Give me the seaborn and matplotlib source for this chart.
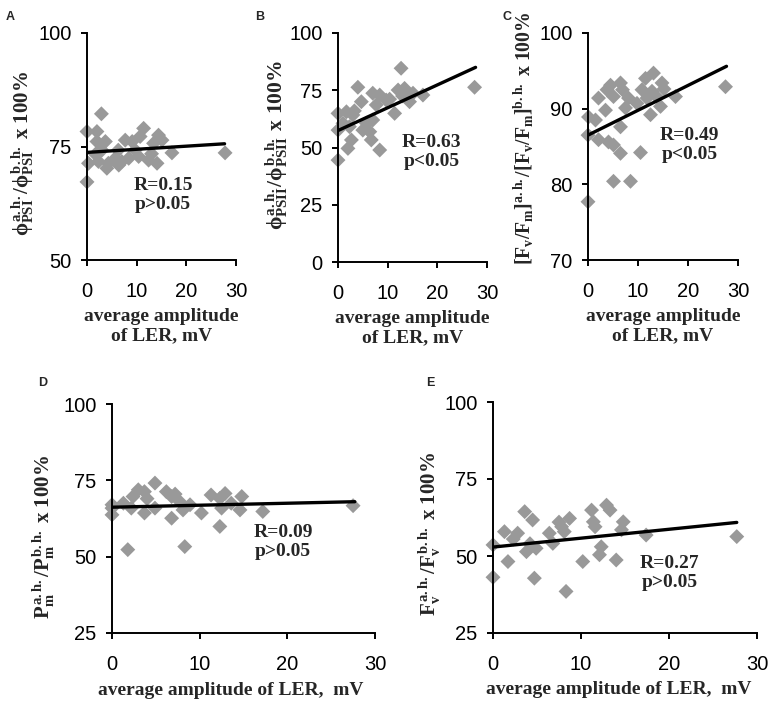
import matplotlib
matplotlib.use("Agg")
import matplotlib.pyplot as plt
import seaborn as sns

# panel A: phi PSI
a_x = [2.9, 0, 2.0, 11.4, 14.4, 2.0, 3.7, 7.7, 9.1, 10.7, 13.4, 15.1, 17.1, 27.8, 0.3, 2.3,
       4.3, 5.7, 7.0, 8.4, 4.0, 6.4, 12.4, 14.1, 13.0, 9.7, 6.3, 3.0, 0, 1.7, 10.4]
a_y = [82.2, 78.3, 78.3, 79.0, 77.5, 76.1, 76.1, 76.4, 76.1, 77.2, 75.7, 76.4, 73.6, 73.6, 71.3, 71.7,
       71.3, 72.4, 71.7, 72.4, 70.2, 70.9, 72.0, 71.3, 73.4, 74.2, 74.2, 74.2, 67.2, 73.3, 72.8]
a_fit = [73.7, 75.6]

# panel B: phi PSII
b_x = [12.7, 27.5, 4.0, 7.0, 8.4, 4.7, 12.1, 13.4, 15.1, 17.1, 9.7, 10.4, 14.4, 11.4, 7.7, 0,
       1.7, 3.0, 1.0, 0, 2.3, 5.7, 7.0, 5.0, 6.4, 2.7, 2.0, 6.7, 8.4, 0, 3.3, 13.0]
b_y = [84.6, 76.3, 76.3, 73.7, 72.9, 70.0, 75.1, 75.8, 73.7, 72.9, 70.7, 71.1, 70.0, 64.9, 68.6, 64.9,
       65.6, 64.2, 60.6, 57.6, 59.1, 60.6, 62.0, 57.6, 56.9, 53.3, 49.6, 53.3, 48.9, 44.5, 66.0, 72.5]
b_fit = [57.4, 85.0]

# panel C: Fv/Fm
c_x = [13.1, 11.5, 27.5, 4.5, 6.5, 14.8, 3.8, 6.9, 10.8, 12.8, 2.1, 5.1, 8.1, 11.8, 13.7, 17.5,
       3.5, 7.5, 9.8, 14.5, 12.5, 0.1, 1.5, 6.5, 0, 2.1, 4.1, 5.1, 6.5, 10.5, 5.1, 8.5, 0, 15.2]
c_y = [94.7, 94.0, 92.9, 93.1, 93.4, 93.4, 92.5, 92.5, 92.5, 92.3, 91.4, 91.6, 91.4, 91.4, 91.6, 91.6,
       89.8, 90.1, 90.7, 90.3, 89.2, 88.9, 88.5, 87.6, 86.5, 85.9, 85.6, 85.2, 84.1, 84.2, 80.4, 80.4, 77.7, 92.6]
c_fit = [86.5, 95.6]

# panel D: Pm
d_x = [4.9, 0, 0, 0, 1.3, 2.4, 3.0, 3.7, 2.2, 3.7, 4.9, 6.2, 6.8, 7.7, 8.1, 8.9,
       6.8, 10.2, 11.3, 12.3, 12.9, 12.5, 12.3, 13.6, 14.8, 14.6, 17.2, 27.5, 1.8, 8.3, 4.0, 7.2]
d_y = [74.1, 65.9, 63.7, 67.0, 67.5, 69.7, 71.9, 71.3, 65.9, 64.3, 65.9, 71.3, 69.7, 68.1, 65.3, 67.0,
       62.6, 64.3, 70.2, 69.1, 70.7, 65.9, 59.9, 67.5, 69.7, 65.3, 64.8, 66.7, 52.3, 53.3, 69.0, 70.5]
d_fit = [66.2, 68.0]

# panel E: Fv
e_x = [0, 0, 1.3, 1.7, 2.8, 3.6, 4.5, 3.8, 4.9, 4.7, 6.4, 6.8, 7.8, 8.1, 8.7, 8.3,
       10.2, 11.2, 11.4, 11.6, 12.3, 12.1, 12.9, 13.3, 14.0, 14.8, 14.6, 17.4, 27.7, 2.3, 4.2, 7.5]
e_y = [53.6, 43.1, 57.9, 48.2, 57.4, 64.4, 61.7, 51.4, 52.5, 42.8, 57.4, 54.1, 59.5, 57.9, 62.2, 38.5,
       48.2, 64.9, 61.1, 59.5, 53.0, 50.4, 66.5, 64.9, 48.7, 61.1, 58.5, 56.8, 56.3, 55.5, 54.0, 61.0]
e_fit = [52.9, 60.9]

fit_x = [0, 27.7]
x_ticks = [0, 10, 20, 30]

sns.set_style("ticks")
plt.rcParams["font.family"] = ["Liberation Sans", "DejaVu Sans"]
plt.rcParams["mathtext.fontset"] = "custom"
plt.rcParams["mathtext.rm"] = "Liberation Serif:bold"
plt.rcParams["mathtext.it"] = "Liberation Serif:bold"
plt.rcParams["mathtext.bf"] = "Liberation Serif:bold"

W, H = 773, 706
fig = plt.figure(figsize=(W / 100, H / 100), dpi=100)

serif = dict(family="Liberation Serif", weight="bold", size=14)

panels = [
    # letter, x, y, fit, ylim, yticks, box(l,t,r,b), ylabel, ylabel pos, ylabel size,
    # xlabel, xlabel pos, stats, stats pos, letter pos
    ("A", a_x, a_y, a_fit, (50, 100), [50, 75, 100], (87, 33, 236, 260),
     r"$\phi_{\mathrm{PSI}}^{\mathrm{a.h.}}/\phi_{\mathrm{PSI}}^{\mathrm{b.h.}}$ x 100%", (-0.43, 0.47), 15,
     "average amplitude\nof LER, mV", (0.5, -0.29), "R=0.15\np>0.05", (15.3, 64.3), (10, 17)),
    ("B", b_x, b_y, b_fit, (0, 100), [0, 25, 50, 75, 100], (338, 33, 487, 262),
     r"$\phi_{\mathrm{PSII}}^{\mathrm{a.h.}}/\phi_{\mathrm{PSII}}^{\mathrm{b.h.}}$ x 100%", (-0.41, 0.51), 15.5,
     "average amplitude\nof LER, mV", (0.5, -0.29), "R=0.63\np<0.05", (18.8, 48.0), (260, 17)),
    ("C", c_x, c_y, c_fit, (70, 100), [70, 80, 90, 100], (588, 33, 738, 260),
     r"$[F_{\mathrm{v}}/F_{\mathrm{m}}]^{\mathrm{a.h.}}/[F_{\mathrm{v}}/F_{\mathrm{m}}]^{\mathrm{b.h.}}$ x 100%",
     (-0.43, 0.535), 14.2,
     "average amplitude\nof LER, mV", (0.5, -0.29), "R=0.49\np<0.05", (20.3, 85.2), (507, 17)),
    ("D", d_x, d_y, d_fit, (25, 100), [25, 50, 75, 100], (112, 404, 375, 633),
     r"$P_{\mathrm{m}}^{\mathrm{a.h.}}/P_{\mathrm{m}}^{\mathrm{b.h.}}$ x 100%", (-0.26, 0.42), 15,
     "average amplitude of LER,  mV", (0.45, -0.25), "R=0.09\np>0.05", (19.5, 54.7), (43, 383)),
    ("E", e_x, e_y, e_fit, (25, 100), [25, 50, 75, 100], (493, 402, 757, 633),
     r"$F_{\mathrm{v}}^{\mathrm{a.h.}}/F_{\mathrm{v}}^{\mathrm{b.h.}}$ x 100%", (-0.24, 0.43), 15,
     "average amplitude of LER,  mV", (0.476, -0.245), "R=0.27\np>0.05", (20.1, 44.4), (430, 383)),
]

for (letter, xs, ys, fit, ylim, yticks, box, ylab, ylab_pos, ylab_size,
     xlab, xlab_pos, stats, stats_pos, letter_pos) in panels:
    l, t, r, b = box
    ax = fig.add_axes([l / W, 1 - b / H, (r - l) / W, (b - t) / H])
    sns.scatterplot(x=xs, y=ys, marker="D", s=58, color="#999999", edgecolor="none",
                    ax=ax, zorder=2, clip_on=False)
    sns.lineplot(x=fit_x, y=fit, color="black", linewidth=2.4, ax=ax, zorder=3)
    ax.set_xlim(0, 30)
    ax.set_ylim(*ylim)
    ax.set_xticks(x_ticks)
    ax.set_yticks(yticks)
    sns.despine(ax=ax)
    for s in ["left", "bottom"]:
        ax.spines[s].set_linewidth(1.4)
        ax.spines[s].set_color("black")
    ax.tick_params(axis="both", direction="out", length=4, width=1.4, color="black",
                   labelsize=14.5, labelcolor="black")
    ax.tick_params(axis="x", pad=12)
    ax.tick_params(axis="y", pad=7)
    ax.text(ylab_pos[0], ylab_pos[1], ylab, transform=ax.transAxes, rotation=90,
            ha="center", va="center", family="Liberation Serif", weight="bold", size=ylab_size)
    ax.text(xlab_pos[0], xlab_pos[1], xlab, transform=ax.transAxes,
            ha="center", va="center", linespacing=1.15, **serif)
    ax.text(stats_pos[0], stats_pos[1], stats, ha="center", va="center",
            linespacing=1.15, **serif)
    fig.text(letter_pos[0] / W, 1 - letter_pos[1] / H, letter, ha="center", va="center",
             fontsize=9, fontweight="bold", family="Liberation Sans")

fig.savefig("out.png", dpi=100)
